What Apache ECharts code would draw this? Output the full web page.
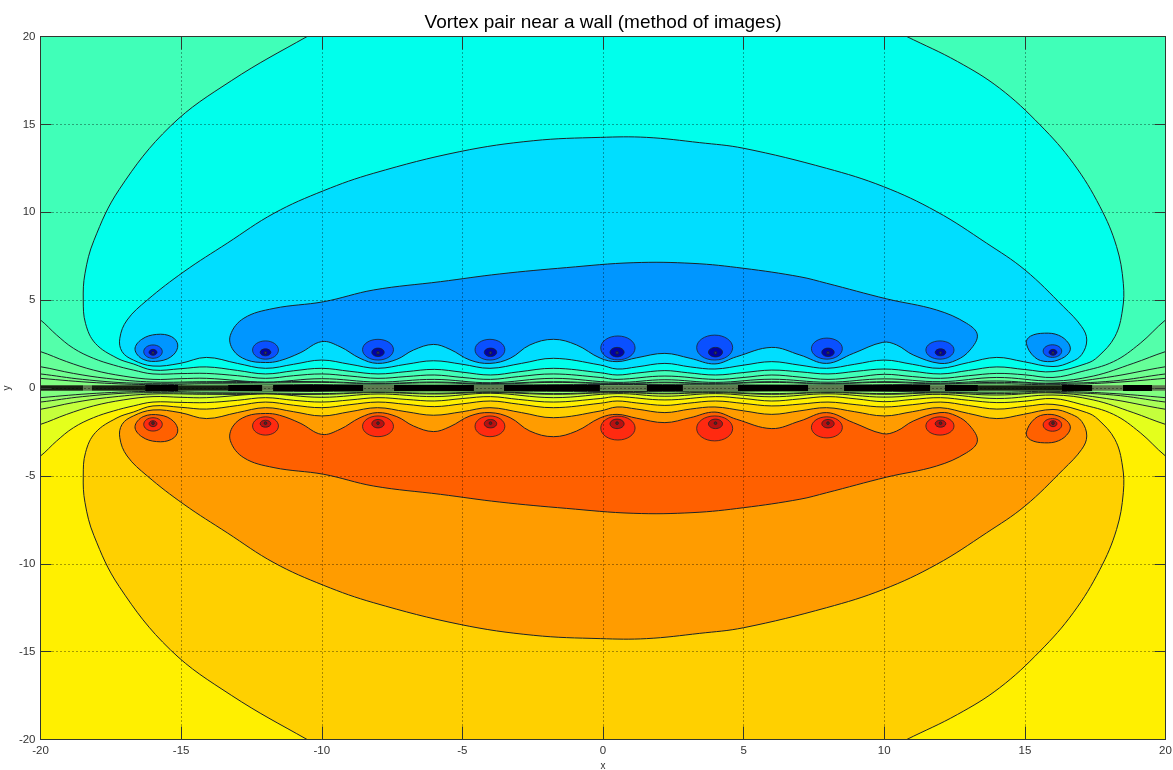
<!DOCTYPE html>
<html><head><meta charset="utf-8"><style>html,body{margin:0;padding:0;background:#fff}#c{width:1173px;height:770px}</style>
<script src="https://cdn.jsdelivr.net/npm/echarts@6/dist/echarts.min.js"></script></head><body><div id="c"></div>
<script>
const tickValues=[-20,-15,-10,-5,0,5,10,15,20];
const titleText='Vortex pair near a wall (method of images)';
// strip behind the wall
const wallStrip=[[-24,-6],[24,-6],[24,6],[-24,6]];
// upper half: open contours, read left to right
const lineL5U=[[-21,.7],[-20,.55],[-18,.3],[-16,.19],[-14,.24],[-8,.17],[-4,.17],[0,.2],[8,.17],[14,.24],[16,.19],[18,.3],[20,.55],[21,.7]];
const lineL4U=[[-21,.95],[-20,.8],[-18.5,.49],[-16.7,.28],[-14.1,.3],[-10,.32],[-8,.24],[-6,.3],[-4,.22],[-1.76,.32],[.5,.24],[2.2,.3],[4,.24],[6,.32],[8,.24],[10,.32],[12,.24],[14,.32],[16,.26],[18.15,.4],[20,.8],[21,.95]];
const lineL3U=[[-21,1.4],[-20,1.21],[-18.83,.83],[-17.65,.55],[-16,.34],[-14.1,.36],[-10,.36],[-8,.26],[-6,.34],[-4,.25],[-1.76,.36],[.5,.26],[2.2,.33],[4,.26],[6,.36],[8,.26],[10,.36],[12,.28],[14,.4],[16,.28],[17.9,.6],[20,1.21],[21,1.4]];
const lineL2U=[[-21,2.5],[-20,2.07],[-19.07,1.5],[-18.12,1.02],[-17.06,.68],[-16,.49],[-15,.53],[-14.1,.55],[-12,.34],[-10,.53],[-8,.34],[-6,.49],[-4,.3],[-1.76,.55],[.5,.32],[2.2,.47],[4,.32],[6,.5],[8,.33],[10,.52],[12,.36],[14,.6],[16,.4],[17.43,.68],[18.85,1.4],[20,2.07],[21,2.5]];
const lineL1U=[[-21,5],[-20,3.87],[-19.43,3.02],[-18.83,2.26],[-18.12,1.69],[-17.41,1.31],[-16.7,1.02],[-16,.8],[-15,.82],[-14.1,.83],[-13,.7],[-12,.55],[-11,.7],[-10,.8],[-9,.68],[-8,.55],[-7,.65],[-6,.74],[-5,.6],[-4,.49],[-3,.65],[-1.76,.8],[-.1,.6],[.5,.49],[2.2,.68],[4,.49],[5,.6],[6,.74],[7,.62],[8,.49],[9,.62],[10,.78],[11,.65],[12,.55],[13,.7],[14,.83],[15,.75],[16,.6],[17,.93],[18.15,1.5],[19.1,2.54],[20,3.87],[21,5]];
// upper half: closed contours
const loopC3U=[[-18.48,5.01],[-18.42,6.5],[-18.1,8.4],[-17.2,11.3],[-15.38,14.9],[-13.2,17.5],[-10.52,20],[-8,22.2],[0,26],[8.3,22],[10.8,20],[12.6,18.58],[14.1,17.06],[15.54,14.97],[16.72,12.79],[17.67,10.32],[18.26,8.05],[18.5,5.96],[18.47,4.44],[18.2,2.92],[17.6,1.78],[17.2,1.4],[16,.93],[15,1.05],[14,1.2],[13,1],[12,.8],[11,.95],[10,1.08],[9,.95],[8,.8],[7,.92],[6,1.02],[5,.88],[4,.74],[3,.87],[2.2,.99],[1.2,.85],[.5,.74],[-.1,.87],[-1.76,1.12],[-3,.92],[-4,.74],[-5,.9],[-6,1.06],[-7,.93],[-8,.8],[-9,.95],[-10,1.12],[-11,.98],[-12,.8],[-13,1],[-14.1,1.2],[-15,1.1],[-16,1.02],[-16.7,1.37],[-17.28,1.7],[-18.05,2.54],[-18.4,3.68]];
const loopC2U=[[-17.18,2.83],[-16.92,3.87],[-16.2,5.01],[-14.9,6.62],[-13.36,8.24],[-11.7,9.94],[-9.93,11.23],[-8.15,12.22],[-5.09,13.45],[-2.48,14.07],[-.1,14.26],[1.55,14.26],[3.44,13.96],[5,13.64],[7.95,12.5],[9.97,11.46],[11.86,10.04],[13.64,8.24],[15,6.72],[16.37,4.63],[17.02,3.49],[17.2,2.73],[17.02,1.9],[16.66,1.5],[16,1.22],[14.95,1.5],[14,1.74],[13,1.45],[11.98,1.12],[11,1.35],[10,1.59],[8.95,1.35],[7.95,1.12],[7,1.3],[6,1.5],[5,1.3],[3.98,1.08],[3.1,1.2],[2.2,1.4],[1.2,1.2],[.5,1.08],[-.1,1.31],[-1.76,1.69],[-2.9,1.4],[-4.02,1.12],[-5,1.35],[-6.03,1.55],[-7,1.35],[-8.02,1.12],[-9,1.35],[-10,1.59],[-11,1.35],[-12,1.12],[-13,1.4],[-14.1,1.74],[-15.04,1.4],[-16,1.25],[-16.7,1.59],[-17.1,2.07]];
const loopW1U=[[-13.25,3.0],[-12.77,3.97],[-11.7,4.53],[-9.93,4.91],[-8.15,5.58],[-5.78,6.05],[-3.67,6.49],[-1.3,6.85],[1.07,7.13],[3.2,7.09],[5,6.81],[7,6.33],[7.95,5.96],[10.09,5.07],[11.86,4.44],[12.93,3.68],[13.31,3.02],[13.05,2.16],[12.57,1.59],[11.98,1.4],[11.03,1.88],[10.44,2.45],[9.95,2.6],[8.9,1.97],[7.95,1.4],[7,1.88],[6,2.31],[4.75,1.78],[3.98,1.37],[3.1,1.69],[2.2,1.97],[1.2,1.72],[.5,1.5],[-.1,1.7],[-.94,2.45],[-1.76,2.77],[-2.6,2.45],[-3.3,1.69],[-4.02,1.4],[-4.73,1.59],[-5.44,2.2],[-6.03,2.48],[-6.74,2.16],[-7.33,1.63],[-8.02,1.4],[-8.64,1.69],[-9.35,2.35],[-10,2.64],[-10.77,2.0],[-11.5,1.55],[-12,1.45],[-12.67,1.6],[-13.15,2.16]];
const blobLeftU=[[-16.64,2.2],[-16.4,2.77],[-15.87,3.05],[-15.34,2.92],[-15.12,2.45],[-15.28,1.88],[-15.75,1.54],[-16.35,1.63]];
const blobRightU=[[15.05,2.55],[15.2,2.95],[15.7,3.12],[16.2,3.0],[16.55,2.55],[16.6,2.1],[16.3,1.67],[15.8,1.5],[15.35,1.75]];
// lower half: open contours
const lineL5L=[[-21,-.7],[-20,-.55],[-18,-.3],[-16,-.19],[-14,-.24],[-8,-.17],[-4,-.17],[0,-.2],[8,-.17],[14,-.24],[16,-.19],[18,-.3],[20,-.55],[21,-.7]];
const lineL4L=[[-21,-.95],[-20,-.8],[-18.5,-.49],[-16.7,-.28],[-14.1,-.3],[-10,-.32],[-8,-.24],[-6,-.3],[-4,-.22],[-1.76,-.32],[.5,-.24],[2.2,-.3],[4,-.24],[6,-.32],[8,-.24],[10,-.32],[12,-.24],[14,-.32],[16,-.26],[18.15,-.4],[20,-.8],[21,-.95]];
const lineL3L=[[-21,-1.4],[-20,-1.21],[-18.83,-.83],[-17.65,-.55],[-16,-.34],[-14.1,-.36],[-10,-.36],[-8,-.26],[-6,-.34],[-4,-.25],[-1.76,-.36],[.5,-.26],[2.2,-.33],[4,-.26],[6,-.36],[8,-.26],[10,-.36],[12,-.28],[14,-.4],[16,-.28],[17.9,-.6],[20,-1.21],[21,-1.4]];
const lineL2L=[[-21,-2.5],[-20,-2.07],[-19.07,-1.5],[-18.12,-1.02],[-17.06,-.68],[-16,-.49],[-15,-.53],[-14.1,-.55],[-12,-.34],[-10,-.53],[-8,-.34],[-6,-.49],[-4,-.3],[-1.76,-.55],[.5,-.32],[2.2,-.47],[4,-.32],[6,-.5],[8,-.33],[10,-.52],[12,-.36],[14,-.6],[16,-.4],[17.43,-.68],[18.85,-1.4],[20,-2.07],[21,-2.5]];
const lineL1L=[[-21,-5],[-20,-3.87],[-19.43,-3.02],[-18.83,-2.26],[-18.12,-1.69],[-17.41,-1.31],[-16.7,-1.02],[-16,-.8],[-15,-.82],[-14.1,-.83],[-13,-.7],[-12,-.55],[-11,-.7],[-10,-.8],[-9,-.68],[-8,-.55],[-7,-.65],[-6,-.74],[-5,-.6],[-4,-.49],[-3,-.65],[-1.76,-.8],[-.1,-.6],[.5,-.49],[2.2,-.68],[4,-.49],[5,-.6],[6,-.74],[7,-.62],[8,-.49],[9,-.62],[10,-.78],[11,-.65],[12,-.55],[13,-.7],[14,-.83],[15,-.75],[16,-.6],[17,-.93],[18.15,-1.5],[19.1,-2.54],[20,-3.87],[21,-5]];
// lower half: closed contours
const loopC3L=[[-18.48,-5.01],[-18.42,-6.5],[-18.1,-8.4],[-17.2,-11.3],[-15.38,-14.9],[-13.2,-17.5],[-10.52,-20],[-8,-22.2],[0,-26],[8.3,-22],[10.8,-20],[12.6,-18.58],[14.1,-17.06],[15.54,-14.97],[16.72,-12.79],[17.67,-10.32],[18.26,-8.05],[18.5,-5.96],[18.47,-4.44],[18.2,-2.92],[17.6,-1.78],[17.2,-1.4],[16,-.93],[15,-1.05],[14,-1.2],[13,-1],[12,-.8],[11,-.95],[10,-1.08],[9,-.95],[8,-.8],[7,-.92],[6,-1.02],[5,-.88],[4,-.74],[3,-.87],[2.2,-.99],[1.2,-.85],[.5,-.74],[-.1,-.87],[-1.76,-1.12],[-3,-.92],[-4,-.74],[-5,-.9],[-6,-1.06],[-7,-.93],[-8,-.8],[-9,-.95],[-10,-1.12],[-11,-.98],[-12,-.8],[-13,-1],[-14.1,-1.2],[-15,-1.1],[-16,-1.02],[-16.7,-1.37],[-17.28,-1.7],[-18.05,-2.54],[-18.4,-3.68]];
const loopC2L=[[-17.18,-2.83],[-16.92,-3.87],[-16.2,-5.01],[-14.9,-6.62],[-13.36,-8.24],[-11.7,-9.94],[-9.93,-11.23],[-8.15,-12.22],[-5.09,-13.45],[-2.48,-14.07],[-.1,-14.26],[1.55,-14.26],[3.44,-13.96],[5,-13.64],[7.95,-12.5],[9.97,-11.46],[11.86,-10.04],[13.64,-8.24],[15,-6.72],[16.37,-4.63],[17.02,-3.49],[17.2,-2.73],[17.02,-1.9],[16.66,-1.5],[16,-1.22],[14.95,-1.5],[14,-1.74],[13,-1.45],[11.98,-1.12],[11,-1.35],[10,-1.59],[8.95,-1.35],[7.95,-1.12],[7,-1.3],[6,-1.5],[5,-1.3],[3.98,-1.08],[3.1,-1.2],[2.2,-1.4],[1.2,-1.2],[.5,-1.08],[-.1,-1.31],[-1.76,-1.69],[-2.9,-1.4],[-4.02,-1.12],[-5,-1.35],[-6.03,-1.55],[-7,-1.35],[-8.02,-1.12],[-9,-1.35],[-10,-1.59],[-11,-1.35],[-12,-1.12],[-13,-1.4],[-14.1,-1.74],[-15.04,-1.4],[-16,-1.25],[-16.7,-1.59],[-17.1,-2.07]];
const loopW1L=[[-13.25,-3.0],[-12.77,-3.97],[-11.7,-4.53],[-9.93,-4.91],[-8.15,-5.58],[-5.78,-6.05],[-3.67,-6.49],[-1.3,-6.85],[1.07,-7.13],[3.2,-7.09],[5,-6.81],[7,-6.33],[7.95,-5.96],[10.09,-5.07],[11.86,-4.44],[12.93,-3.68],[13.31,-3.02],[13.05,-2.16],[12.57,-1.59],[11.98,-1.4],[11.03,-1.88],[10.44,-2.45],[9.95,-2.6],[8.9,-1.97],[7.95,-1.4],[7,-1.88],[6,-2.31],[4.75,-1.78],[3.98,-1.37],[3.1,-1.69],[2.2,-1.97],[1.2,-1.72],[.5,-1.5],[-.1,-1.7],[-.94,-2.45],[-1.76,-2.77],[-2.6,-2.45],[-3.3,-1.69],[-4.02,-1.4],[-4.73,-1.59],[-5.44,-2.2],[-6.03,-2.48],[-6.74,-2.16],[-7.33,-1.63],[-8.02,-1.4],[-8.64,-1.69],[-9.35,-2.35],[-10,-2.64],[-10.77,-2.0],[-11.5,-1.55],[-12,-1.45],[-12.67,-1.6],[-13.15,-2.16]];
const blobLeftL=[[-16.64,-2.2],[-16.4,-2.77],[-15.87,-3.05],[-15.34,-2.92],[-15.12,-2.45],[-15.28,-1.88],[-15.75,-1.54],[-16.35,-1.63]];
const blobRightL=[[15.05,-2.55],[15.2,-2.95],[15.7,-3.12],[16.2,-3.0],[16.55,-2.55],[16.6,-2.1],[16.3,-1.67],[15.8,-1.5],[15.35,-1.75]];
// vortex rings: centre x, centre y, half width, half height
const ringMidU=[[-16,2.07,.33,.38],[-12,2.16,.46,.52],[-8,2.18,.55,.59],[-4.02,2.18,.53,.59],[.53,2.28,.61,.68],[3.97,2.3,.64,.71],[7.96,2.24,.55,.6],[11.98,2.16,.5,.52],[15.98,2.1,.33,.36]];
const ringCoreU=[[-16,2.03,.14,.17],[-12,2.03,.19,.2],[-8,2.03,.22,.24],[-4,2.03,.22,.24],[.5,2.04,.25,.27],[4,2.04,.25,.27],[8,2.03,.22,.24],[12,2.03,.19,.2],[16,2.03,.14,.17]];
const ringDotU=[[-16,2,.05,.08],[-12,2,.05,.08],[-8,2,.05,.08],[-4,2,.05,.08],[.5,2,.05,.08],[4,2,.05,.08],[8,2,.05,.08],[12,2,.05,.08],[16,2,.05,.08]];
const ringMidL=[[-16,-2.07,.33,.38],[-12,-2.16,.46,.52],[-8,-2.18,.55,.59],[-4.02,-2.18,.53,.59],[.53,-2.28,.61,.68],[3.97,-2.3,.64,.71],[7.96,-2.24,.55,.6],[11.98,-2.16,.5,.52],[15.98,-2.1,.33,.36]];
const ringCoreL=[[-16,-2.03,.14,.17],[-12,-2.03,.19,.2],[-8,-2.03,.22,.24],[-4,-2.03,.22,.24],[.5,-2.04,.25,.27],[4,-2.04,.25,.27],[8,-2.03,.22,.24],[12,-2.03,.19,.2],[16,-2.03,.14,.17]];
const ringDotL=[[-16,-2,.05,.08],[-12,-2,.05,.08],[-8,-2,.05,.08],[-4,-2,.05,.08],[.5,-2,.05,.08],[4,-2,.05,.08],[8,-2,.05,.08],[12,-2,.05,.08],[16,-2,.05,.08]];
// merged contour lines along the wall: from x, to x
const wallBase=[[-20,20]];
const wallDark=[[-20,-18.49],[-18.17,-16.28],[-15.11,-13.33],[13.33,16.32]];
const wallBlack=[[-16.28,-15.11],[-13.33,-12.12],[-11.73,-8.53],[-7.43,-4.59],[-3.52,-.11],[1.56,2.84],[4.8,7.29],[8.57,11.63],[12.16,13.33],[16.32,17.39],[18.49,19.52]];

const edge='#1c2428';
const closeUp=l=>l.concat([[23,28],[-23,28]]);
const closeDown=l=>l.concat([[23,-28],[-23,-28]]);
function band(points,color){
  return {type:'custom',coordinateSystem:'cartesian2d',clip:true,silent:true,data:points,encode:{x:0,y:1},
    renderItem(params,api){
      if(params.dataIndex!==0) return null;
      return {type:'polygon',shape:{points:points.map(p=>api.coord(p)),smooth:0.38},
        style:{fill:color,stroke:edge,lineWidth:1}};
    }};
}
function rings(rows,color){
  return {type:'custom',coordinateSystem:'cartesian2d',clip:true,silent:true,data:rows,encode:{x:0,y:1},
    renderItem(params,api){
      const c=api.coord([api.value(0),api.value(1)]);
      const s=api.size([api.value(2),api.value(3)]);
      return {type:'ellipse',shape:{cx:c[0],cy:c[1],rx:s[0],ry:s[1]},style:{fill:color,stroke:edge,lineWidth:.8}};
    }};
}
function wall(rows,half,color){
  return {type:'custom',coordinateSystem:'cartesian2d',clip:true,silent:true,data:rows,encode:{x:0},
    renderItem(params,api){
      const a=api.coord([api.value(0),half]),b=api.coord([api.value(1),-half]);
      return {type:'rect',shape:{x:a[0],y:a[1],width:b[0]-a[0],height:b[1]-a[1]},style:{fill:color}};
    }};
}
const tickLine={lineStyle:{color:'#303830',width:1}};
const axisText={color:'#333',fontSize:11.5,fontFamily:'Liberation Sans'};
const dotted={show:true,lineStyle:{color:'rgba(0,0,0,.7)',width:1,type:[1,3]}};
const series=[
  band(wallStrip,'#80FF80'),
  band(closeUp(lineL5U),'#78FF88'),band(closeUp(lineL4U),'#70FF90'),band(closeUp(lineL3U),'#66FF98'),
  band(closeUp(lineL2U),'#54FFAA'),band(closeUp(lineL1U),'#40FFB8'),
  band(closeDown(lineL5L),'#94FF6C'),band(closeDown(lineL4L),'#A8FF58'),band(closeDown(lineL3L),'#C4FF3C'),
  band(closeDown(lineL2L),'#E4FF1C'),band(closeDown(lineL1L),'#FFF000'),
  band(loopC3U,'#00FFEC'),band(loopC2U,'#00DEFF'),band(loopW1U,'#0096FF'),
  band(loopC3L,'#FFD000'),band(loopC2L,'#FF9C00'),band(loopW1L,'#FF6000'),
  band(blobLeftU,'#0096FF'),band(blobRightU,'#0096FF'),band(blobLeftL,'#FF6000'),band(blobRightL,'#FF6000'),
  rings(ringMidU,'#0A50FF'),rings(ringCoreU,'#0000A8'),rings(ringDotU,'#303068'),
  rings(ringMidL,'#FF2A10'),rings(ringCoreL,'#B81010'),rings(ringDotL,'#602020'),
  wall(wallBase,.15,'#5E7A50'),wall(wallDark,.14,'#14200F'),wall(wallBlack,.17,'#000000')
];
const chart=echarts.init(document.getElementById('c'),null,{renderer:'canvas'});
chart.setOption({
  animation:false,backgroundColor:'#fff',
  title:{text:titleText,left:598,top:8,textAlign:'center',textStyle:{color:'#000',fontSize:19,fontWeight:'normal',fontFamily:'Liberation Sans'}},
  grid:{left:40.5,right:7.5,top:36.5,bottom:30.5,outerBoundsMode:'none'},
  xAxis:[
   {type:'value',min:-20,max:20,interval:5,z:10,name:'x',nameLocation:'middle',nameGap:22,nameTextStyle:{color:'#333',fontSize:10,fontFamily:'Liberation Sans'},
    axisLine:{onZero:false,lineStyle:{color:'#303830'}},axisTick:{inside:true,length:13,...tickLine},axisLabel:{...axisText,margin:5,hideOverlap:false,showMinLabel:true,showMaxLabel:true},
    splitLine:dotted},
   {type:'value',min:-20,max:20,interval:5,z:10,position:'top',axisLine:{onZero:false,lineStyle:{color:'#303830'}},axisTick:{inside:true,length:13,...tickLine},axisLabel:{show:false},splitLine:{show:false}}
  ],
  yAxis:[
   {type:'value',min:-20,max:20,interval:5,z:10,name:'y',nameLocation:'middle',nameGap:28,nameMoveOverlap:false,nameTextStyle:{color:'#333',fontSize:10,fontFamily:'Liberation Sans'},
    axisLine:{onZero:false,lineStyle:{color:'#303830'}},axisTick:{inside:true,length:11,...tickLine},axisLabel:{...axisText,margin:5,hideOverlap:false,showMinLabel:true,showMaxLabel:true},
    splitLine:dotted},
   {type:'value',min:-20,max:20,interval:5,z:10,position:'right',axisLine:{onZero:false,lineStyle:{color:'#303830'}},axisTick:{inside:true,length:11,...tickLine},axisLabel:{show:false},splitLine:{show:false}}
  ],
  series
});
</script></body></html>
